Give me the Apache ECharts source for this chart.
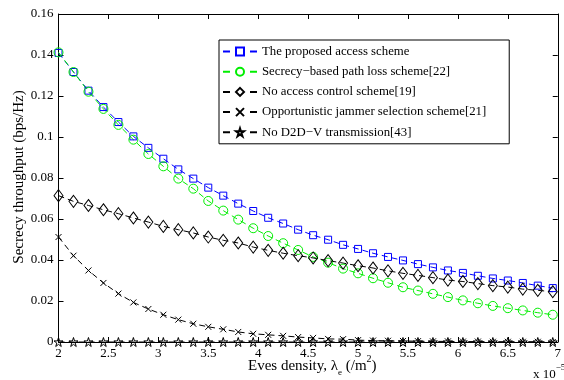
<!DOCTYPE html>
<html>
<head>
<meta charset="utf-8">
<script src="https://cdn.jsdelivr.net/npm/echarts@6/dist/echarts.min.js"></script>
<style>
html,body{margin:0;padding:0;background:#fff;}
#chart{width:564px;height:380px;}
</style>
</head>
<body>
<div id="chart"></div>
<script>
// x values (Eves density, x 10^-5 /m^2)
const xValues = [2, 2.15, 2.3, 2.45, 2.6, 2.75, 2.9, 3.05, 3.2, 3.35, 3.5, 3.65, 3.8, 3.95, 4.1, 4.25, 4.4,
  4.55, 4.7, 4.85, 5.0, 5.15, 5.3, 5.45, 5.6, 5.75, 5.9, 6.05, 6.2, 6.35, 6.5, 6.65, 6.8, 6.95];

const proposed = [0.1410, 0.1317, 0.1226, 0.1146, 0.1073, 0.1003, 0.0947, 0.0894, 0.0842, 0.0797, 0.0753,
  0.0714, 0.0675, 0.0639, 0.0606, 0.0578, 0.0548, 0.0521, 0.0499, 0.0474, 0.0454, 0.0433, 0.0415, 0.0398,
  0.0380, 0.0364, 0.0349, 0.0337, 0.0323, 0.0310, 0.0300, 0.0288, 0.0275, 0.0263];

const pathLoss = [0.1413, 0.1317, 0.1221, 0.1137, 0.1059, 0.0987, 0.0917, 0.0857, 0.0797, 0.0748, 0.0688,
  0.0641, 0.0597, 0.0555, 0.0517, 0.0482, 0.0449, 0.0415, 0.0387, 0.0358, 0.0335, 0.0311, 0.0289, 0.0267,
  0.0251, 0.0235, 0.0219, 0.0203, 0.0189, 0.0176, 0.0165, 0.0154, 0.0143, 0.0133];

const noAccess = [0.0714, 0.0686, 0.0666, 0.0645, 0.0626, 0.0605, 0.0585, 0.0564, 0.0548, 0.0532, 0.0512,
  0.0496, 0.0483, 0.0463, 0.0447, 0.0433, 0.0421, 0.0410, 0.0397, 0.0385, 0.0372, 0.0361, 0.0347, 0.0335,
  0.0325, 0.0314, 0.0302, 0.0295, 0.0285, 0.0275, 0.0268, 0.0258, 0.0252, 0.0245];

const jammer = [0.0512, 0.0421, 0.0349, 0.0288, 0.0236, 0.0193, 0.0161, 0.0133, 0.0109, 0.0089, 0.0074,
  0.0062, 0.0049, 0.0040, 0.0035, 0.0030, 0.0024, 0.0020, 0.0015, 0.0014, 0.0009, 0.0007, 0.0006, 0.0005,
  0.0004, 0.0003, 0.0003, 0.0002, 0.0002, 0.0001, 0.0001, 0.0001, 0.0001, 0.0000];

const noD2DV = [0, 0, 0, 0, 0, 0, 0, 0, 0, 0, 0, 0, 0, 0, 0, 0, 0,
  0, 0, 0, 0, 0, 0, 0, 0, 0, 0, 0, 0, 0, 0, 0, 0, 0];

const seriesNames = [
  'The proposed access scheme',
  'Secrecy\u2212based path loss scheme[22]',
  'No access control scheme[19]',
  'Opportunistic jammer selection scheme[21]',
  'No D2D\u2212V transmission[43]'
];

const xTickMin = 2, xTickMax = 7, xTickStep = 0.5;
const yTickMin = 0, yTickMax = 0.16, yTickStep = 0.02;

const FONT = '"Liberation Serif", "DejaVu Serif", serif';
const STAR = 'path://M50,0 L61.2,34.5 L97.6,34.5 L68.2,55.9 L79.4,90.5 L50,69.1 L20.6,90.5 L31.8,55.9 L2.4,34.5 L38.8,34.5 Z';
const CROSS = 'path://M0,0 L10,10 M10,0 L0,10';

function pairs(ys) { return xValues.map((x, i) => [x, ys[i]]); }

function mkSeries(name, ys, color, symbol, size) {
  return {
    name: name,
    type: 'line',
    data: pairs(ys),
    symbol: symbol,
    symbolSize: size,
    showSymbol: true,
    lineStyle: { color: color, width: 1, type: [6, 4] },
    itemStyle: { color: 'rgba(0,0,0,0)', borderColor: color, borderWidth: 1 },
    emphasis: { disabled: true },
    animation: false
  };
}

const chart = echarts.init(document.getElementById('chart'), null, { renderer: 'canvas' });

const axisCommon = {
  type: 'value',
  axisLine: { show: true, onZero: false, lineStyle: { color: '#000', width: 1 } },
  axisTick: { show: true, inside: true, length: 5, lineStyle: { color: '#000' } },
  splitLine: { show: false }
};

chart.setOption({
  animation: false,
  backgroundColor: '#fff',
  grid: { left: 58.5, right: 1, top: 14, bottom: 38 },
  xAxis: [
    Object.assign({}, axisCommon, {
      position: 'bottom', min: xTickMin, max: xTickMax, interval: xTickStep,
      axisLabel: { color: '#000', fontFamily: FONT, fontSize: 13, margin: 5 }
    }),
    Object.assign({}, axisCommon, {
      position: 'top', min: xTickMin, max: xTickMax, interval: xTickStep,
      axisLabel: { show: false }
    })
  ],
  yAxis: [
    Object.assign({}, axisCommon, {
      position: 'left', min: yTickMin, max: yTickMax, interval: yTickStep,
      axisLabel: { color: '#000', fontFamily: FONT, fontSize: 13, margin: 5 }
    }),
    Object.assign({}, axisCommon, {
      position: 'right', min: yTickMin, max: yTickMax, interval: yTickStep,
      axisLabel: { show: false }
    })
  ],
  legend: {
    orient: 'vertical',
    left: 219, top: 40,
    padding: [5, 23, 5, 3],
    itemWidth: 34, itemHeight: 10, itemGap: 7.2,
    backgroundColor: '#fff',
    borderColor: '#000', borderWidth: 1,
    selectedMode: false,
    lineStyle: { type: [7, 20] },
    textStyle: { color: '#000', fontFamily: FONT, fontSize: 12.8 },
    data: seriesNames
  },
  series: [
    mkSeries(seriesNames[0], proposed, '#0000ff', 'rect', 7),
    mkSeries(seriesNames[1], pathLoss, '#00ee00', 'circle', 9),
    mkSeries(seriesNames[2], noAccess, '#000000', 'diamond', [9, 12]),
    mkSeries(seriesNames[3], jammer, '#000000', CROSS, 6),
    mkSeries(seriesNames[4], noD2DV, '#000000', STAR, 9)
  ],
  graphic: [
    {
      type: 'text', left: 248, top: 354,
      style: {
        text: '{m|Eves density, \u03bb}{s|e}{m| (/m}{p|2}{m|)}',
        rich: {
          m: { fontFamily: FONT, fontSize: 15, fill: '#000', verticalAlign: 'bottom', lineHeight: 20 },
          s: { fontFamily: FONT, fontSize: 9, fill: '#000', verticalAlign: 'bottom', lineHeight: 14, padding: [0, 0, -3, 0] },
          p: { fontFamily: FONT, fontSize: 10, fill: '#000', verticalAlign: 'top', lineHeight: 20 }
        }
      }
    },
    {
      type: 'text', x: 19, y: 177, rotation: Math.PI / 2,
      style: {
        text: 'Secrecy throughput (bps/Hz)',
        fontFamily: FONT, fontSize: 15, fill: '#000',
        align: 'center', verticalAlign: 'middle'
      }
    },
    {
      type: 'text', left: 533, top: 363,
      style: {
        text: '{m|x 10}{p|\u22125}',
        rich: {
          m: { fontFamily: FONT, fontSize: 13, fill: '#000', verticalAlign: 'bottom', lineHeight: 18 },
          p: { fontFamily: FONT, fontSize: 9, fill: '#000', verticalAlign: 'top', lineHeight: 18 }
        }
      }
    }
  ]
});
</script>
</body>
</html>
